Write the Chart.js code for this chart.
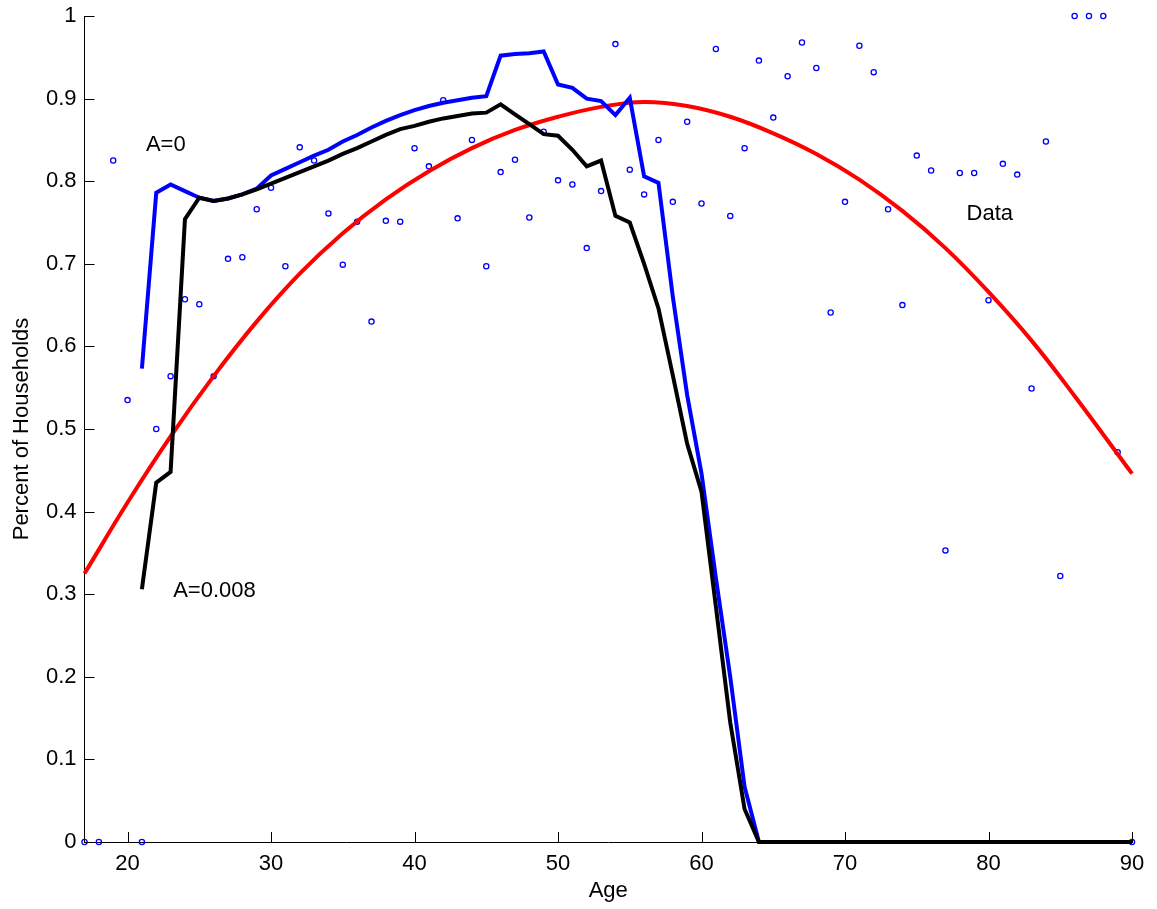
<!DOCTYPE html>
<html>
<head>
<meta charset="utf-8">
<script src="https://cdn.jsdelivr.net/npm/chart.js@4.4.1/dist/chart.umd.min.js"></script>
<style>
  html, body { margin: 0; padding: 0; background: #fff; }
  #wrap { width: 1157px; height: 909px; }
</style>
</head>
<body>
<div id="wrap"><canvas id="chart" width="1157" height="909"></canvas></div>
<script>
"use strict";
// observed share by age (circles)
const ages = [17, 18, 19, 20, 21, 22, 23, 24, 25, 26, 27, 28, 29, 30, 31, 32, 33, 34, 35, 36,
    37, 38, 39, 40, 41, 42, 43, 44, 45, 46, 47, 48, 49, 50, 51, 52, 53, 54, 55, 56,
    57, 58, 59, 60, 61, 62, 63, 64, 65, 66, 67, 68, 69, 70, 71, 72, 73, 74, 75, 76,
    77, 78, 79, 80, 81, 82, 83, 84, 85, 86, 87, 88, 89, 90];
const dataShare = [0, 0, 0.825, 0.535, 0, 0.500, 0.564, 0.657, 0.651, 0.564, 0.706, 0.708, 0.766, 0.792, 0.697, 0.841, 0.825, 0.761, 0.699, 0.751,
    0.630, 0.752, 0.751, 0.840, 0.818, 0.898, 0.755, 0.850, 0.697, 0.811, 0.826, 0.756, 0.860, 0.801, 0.796, 0.719, 0.788, 0.966, 0.814, 0.784,
    0.850, 0.775, 0.872, 0.773, 0.960, 0.758, 0.840, 0.946, 0.877, 0.927, 0.968, 0.937, 0.641, 0.775, 0.964, 0.932, 0.766, 0.650, 0.831, 0.813,
    0.353, 0.810, 0.810, 0.656, 0.821, 0.808, 0.549, 0.848, 0.322, 1, 1, 1, 0.472, 0];

// model paths
const modelAges = [21, 22, 23, 24, 25, 26, 27, 28, 29, 30, 31, 32, 33, 34, 35, 36, 37, 38, 39, 40,
    41, 42, 43, 44, 45, 46, 47, 48, 49, 50, 51, 52, 53, 54, 55, 56, 57, 58, 59, 60,
    61, 62, 63, 64, 65, 66, 67, 68, 69, 70, 71, 72, 73, 74, 75, 76, 77, 78, 79, 80,
    81, 82, 83, 84, 85, 86, 87, 88, 89, 90];
const modelA0 = [0.573, 0.786, 0.796, 0.788, 0.780, 0.776, 0.779, 0.784, 0.791, 0.807, 0.815, 0.823, 0.831, 0.838, 0.848, 0.856, 0.865, 0.873, 0.880, 0.886,
    0.891, 0.895, 0.898, 0.901, 0.903, 0.952, 0.954, 0.955, 0.957, 0.917, 0.913, 0.900, 0.897, 0.880, 0.901, 0.806, 0.798, 0.660, 0.541, 0.446,
    0.320, 0.200, 0.067, 0, 0, 0, 0, 0, 0, 0, 0, 0, 0, 0, 0, 0, 0, 0, 0, 0,
    0, 0, 0, 0, 0, 0, 0, 0, 0, 0];
const modelA008 = [0.306, 0.435, 0.448, 0.754, 0.780, 0.776, 0.779, 0.784, 0.790, 0.797, 0.804, 0.811, 0.818, 0.825, 0.833, 0.840, 0.848, 0.856, 0.863, 0.867,
    0.872, 0.876, 0.879, 0.882, 0.883, 0.893, 0.881, 0.869, 0.857, 0.855, 0.838, 0.818, 0.825, 0.758, 0.750, 0.700, 0.646, 0.565, 0.482, 0.424,
    0.285, 0.145, 0.040, 0, 0, 0, 0, 0, 0, 0, 0, 0, 0, 0, 0, 0, 0, 0, 0, 0,
    0, 0, 0, 0, 0, 0, 0, 0, 0, 0];

// fitted curve through the data
const fitAges = [17, 20, 23, 26, 29, 32, 35, 38, 41, 44, 47, 50, 53, 56, 59, 62, 65, 68, 71, 74, 77, 80, 83, 86, 90];
const fitShare = [0.325, 0.411, 0.491, 0.564, 0.630, 0.688, 0.737, 0.778, 0.812, 0.840, 0.862, 0.878, 0.890, 0.896, 0.891, 0.878, 0.858, 0.833, 0.802, 0.764, 0.719, 0.666, 0.607, 0.540, 0.446];

const xTicks = [20, 30, 40, 50, 60, 70, 80, 90];
const yTicks = [0, 0.1, 0.2, 0.3, 0.4, 0.5, 0.6, 0.7, 0.8, 0.9, 1];

// text labels inside the plot, placed in data coordinates (left, baseline)
const notes = [
    { text: "A=0", age: 21.28, value: 0.837 },
    { text: "A=0.008", age: 23.18, value: 0.297 },
    { text: "Data", age: 78.47, value: 0.753 },
];

const FONT = "'Liberation Sans', Arial, Helvetica, sans-serif";

function pairs(xs, ys) {
    return xs.map((x, i) => ({ x: x, y: ys[i] }));
}

const matlabAxes = {
    id: 'matlabAxes',
    afterDraw(chart) {
        const ctx = chart.ctx;
        const xs = chart.scales.x, ys = chart.scales.y;
        const a = chart.chartArea;
        ctx.save();
        ctx.strokeStyle = '#000';
        ctx.lineWidth = 1;
        ctx.beginPath();
        xTicks.forEach(t => {
            const px = Math.round(xs.getPixelForValue(t)) + 0.5;
            ctx.moveTo(px, a.bottom);
            ctx.lineTo(px, a.bottom - 10);
        });
        yTicks.forEach(t => {
            const py = Math.round(ys.getPixelForValue(t)) + 0.5;
            ctx.moveTo(a.left, py);
            ctx.lineTo(a.left + 10, py);
        });
        ctx.stroke();
        ctx.fillStyle = '#000';
        ctx.font = "22px " + FONT;
        ctx.textAlign = 'left';
        ctx.textBaseline = 'alphabetic';
        notes.forEach(n => {
            ctx.fillText(n.text, xs.getPixelForValue(n.age), ys.getPixelForValue(n.value));
        });
        ctx.restore();
    }
};

const chart = new Chart(document.getElementById('chart'), {
    data: {
        datasets: [{
                type: 'line',
                label: 'A=0.008',
                data: pairs(modelAges, modelA008),
                borderColor: '#000000',
                borderWidth: 4,
                pointRadius: 0,
                tension: 0,
                fill: false,
                clip: false,
            }, {
                type: 'line',
                label: 'A=0',
                data: pairs(modelAges, modelA0),
                borderColor: '#0000ff',
                borderWidth: 4,
                pointRadius: 0,
                tension: 0,
                fill: false,
                clip: false,
            }, {
                type: 'line',
                label: 'Fit',
                data: pairs(fitAges, fitShare),
                borderColor: '#ff0000',
                borderWidth: 4,
                pointRadius: 0,
                tension: 0.4,
                fill: false,
                clip: false,
            }, {
                type: 'scatter',
                label: 'Data',
                data: pairs(ages, dataShare),
                borderColor: '#0000ff',
                backgroundColor: 'rgba(0,0,0,0)',
                borderWidth: 1.3,
                pointRadius: 2.6,
                pointStyle: 'circle',
                clip: false,
            }],
    },
    options: {
        responsive: false,
        animation: false,
        devicePixelRatio: 1,
        layout: { padding: { left: 0, right: 25, top: 16, bottom: 0 } },
        plugins: {
            legend: { display: false },
            tooltip: { enabled: false },
        },
        scales: {
            x: {
                type: 'linear',
                min: 17,
                max: 90,
                afterBuildTicks: (s) => { s.ticks = xTicks.map(v => ({ value: v })); },
                afterFit: (s) => { s.height = 67; s.paddingLeft = 0; s.paddingRight = 0; },
                grid: { display: false, drawTicks: false },
                border: { display: true, color: '#000', width: 1 },
                ticks: {
                    color: '#000',
                    padding: 9,
                    maxRotation: 0,
                    font: { family: FONT, size: 22 },
                },
                title: {
                    display: true,
                    text: 'Age',
                    color: '#000',
                    font: { family: FONT, size: 22 },
                    padding: { top: 0, bottom: 5 },
                },
            },
            y: {
                type: 'linear',
                min: 0,
                max: 1,
                afterBuildTicks: (s) => { s.ticks = yTicks.map(v => ({ value: v })); },
                afterFit: (s) => { s.width = 84.5; s.paddingTop = 0; s.paddingBottom = 0; },
                grid: { display: false, drawTicks: false },
                border: { display: true, color: '#000', width: 1 },
                ticks: {
                    color: '#000',
                    padding: 8,
                    font: { family: FONT, size: 22 },
                    callback: (v) => String(v),
                },
                title: {
                    display: true,
                    text: 'Percent of Households',
                    color: '#000',
                    font: { family: FONT, size: 22 },
                    padding: { top: 9, bottom: 0 },
                },
            },
        },
    },
    plugins: [matlabAxes],
});
</script>
</body>
</html>
